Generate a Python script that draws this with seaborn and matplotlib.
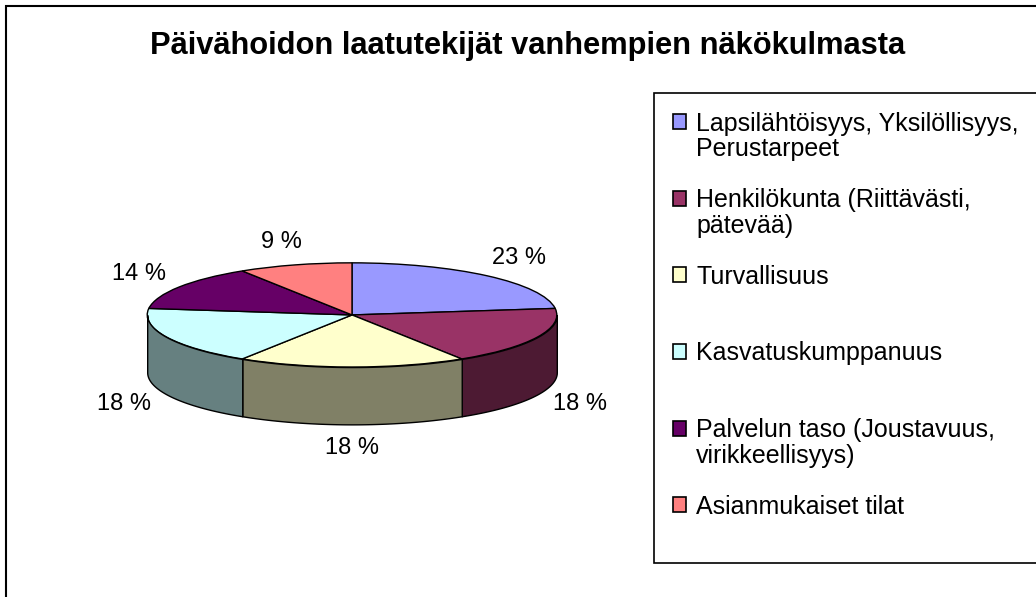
import numpy as np
import matplotlib.pyplot as plt
import matplotlib.patches as mpatches
from matplotlib.colors import to_rgb
import seaborn as sns

title = "Päivähoidon laatutekijät vanhempien näkökulmasta"
categories = [
    "Lapsilähtöisyys, Yksilöllisyys,\nPerustarpeet",
    "Henkilökunta (Riittävästi,\npätevää)",
    "Turvallisuus",
    "Kasvatuskumppanuus",
    "Palvelun taso (Joustavuus,\nvirikkeellisyys)",
    "Asianmukaiset tilat",
]
shares = [23, 18, 18, 18, 14, 9]
top_colors = ["#9999FF", "#993366", "#FFFFCC", "#CCFFFF", "#660066", "#FF8080"]

sns.set_theme(style="white")
plt.rcParams["font.family"] = ["Liberation Sans", "DejaVu Sans"]
plt.rcParams["text.color"] = "black"

palette = sns.color_palette(top_colors)
side_colors = [tuple(0.5 * np.array(to_rgb(c))) for c in palette]

W, H = 1036, 597
fig = plt.figure(figsize=(W / 100, H / 100), dpi=100, facecolor="white")

# pie axes: x unit = 205 px, y unit = 52 px -> flattened ellipse
ax = fig.add_axes([96 / W, (H - 440) / H, 512 / W, 198 / H])
wedges, _ = ax.pie(shares, colors=palette, startangle=90, counterclock=False,
                   wedgeprops=dict(edgecolor="black", linewidth=1))
ax.set_aspect("auto")
ax.set_xlim(-1.25, 1.25)
ax.set_ylim(-2.4, 1.4)
ax.axis("off")

depth = 1.1
edges = 90 - 360 * np.cumsum([0] + shares) / sum(shares)

# side walls on the front half
for i in range(len(shares)):
    hi, lo = edges[i], edges[i + 1]
    a, b = max(lo, -180), min(hi, 0)
    if a < b:
        t = np.radians(np.linspace(a, b, 80))
        x, y = np.cos(t), np.sin(t)
        ax.fill_between(x, y - depth, y, facecolor=side_colors[i],
                        edgecolor="black", linewidth=1)

# percentage labels
for i, v in enumerate(shares):
    mid = np.radians((edges[i] + edges[i + 1]) / 2)
    s = np.sin(mid)
    lx = 1.23 * np.cos(mid)
    ly = 1.45 * s - (depth if s < 0 else 0)
    ax.text(lx, ly, f"{v} %", ha="center", va="center", fontsize=17)

fig.text(528 / W, 1 - 54 / H, title, ha="center", va="baseline",
         fontsize=22.2, fontweight="bold")

# legend: one row per text line, blank rows to mimic spacing
gaps = [1, 1, 2, 2, 1, 1]
handles, labels = [], []
blank = mpatches.Patch(facecolor="none", edgecolor="none")
for cat, col, g in zip(categories, palette, gaps):
    lines = cat.split("\n")
    handles.append(mpatches.Patch(facecolor=col, edgecolor="black", linewidth=1.2))
    labels.append(lines[0])
    for ln in lines[1:]:
        handles.append(blank)
        labels.append(ln)
    for _ in range(g):
        handles.append(blank)
        labels.append("")

# frame runs past the right edge, as in the source
leg = fig.legend(handles, labels, loc="upper left", mode="expand",
                 bbox_to_anchor=(654 / W, 1 - 93 / H, 0.4, 0), borderaxespad=0,
                 frameon=True, fancybox=False, framealpha=1,
                 edgecolor="black", fontsize=18, handlelength=0.55,
                 handleheight=0.55, handletextpad=0.4, labelspacing=0.062,
                 borderpad=0.74)
leg.get_frame().set_linewidth(1.2)

fig.add_artist(mpatches.Rectangle((5.5 / W, -0.1), 1.2, (H - 5.5) / H + 0.1,
                                  transform=fig.transFigure, fill=False,
                                  edgecolor="black", linewidth=1.5))

fig.savefig("out.png", dpi=100)
